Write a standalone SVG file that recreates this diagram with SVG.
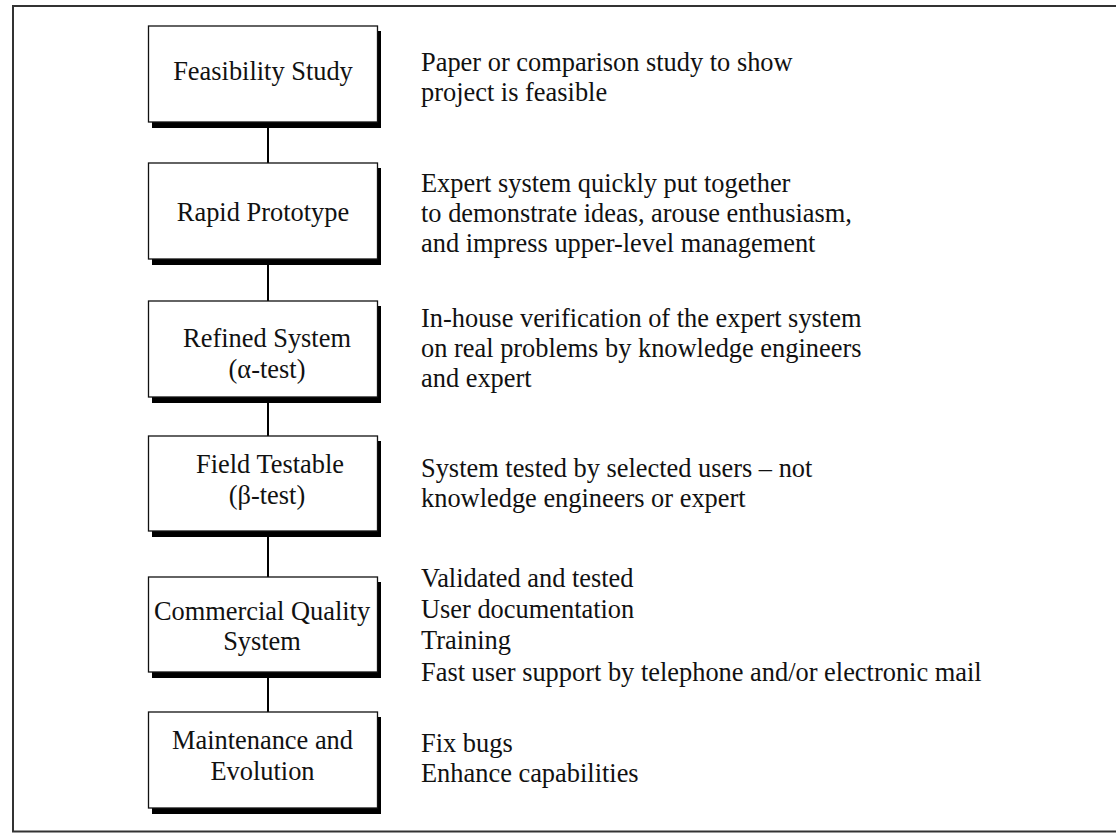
<svg xmlns="http://www.w3.org/2000/svg" width="1116" height="833" viewBox="0 0 1116 833">
<style>
text{font-family:"Liberation Serif","Times New Roman",serif;font-size:26.4px;fill:#111}
.c{text-anchor:middle}
.box{fill:#fff;stroke:#111;stroke-width:1.3}
.sh{fill:#000}
.con{stroke:#000;stroke-width:2;fill:none}
</style>
<rect x="13" y="6" width="1120" height="825.5" fill="#fff" stroke="#333" stroke-width="2"/>
<g id="connectors">
<line class="con" x1="268" y1="122" x2="268" y2="163"/>
<line class="con" x1="268" y1="259" x2="268" y2="301"/>
<line class="con" x1="268" y1="397" x2="268" y2="436"/>
<line class="con" x1="268" y1="531" x2="268" y2="577"/>
<line class="con" x1="268" y1="672" x2="268" y2="712"/>
</g>
<g id="n1">
<rect class="sh" x="152" y="31" width="229" height="97"/>
<rect class="box" x="148.5" y="26" width="229" height="96"/>
<text class="c" x="263" y="80">Feasibility Study</text>
</g>
<g id="n2">
<rect class="sh" x="152" y="168" width="229" height="97"/>
<rect class="box" x="148.5" y="163" width="229" height="96"/>
<text class="c" x="263" y="221">Rapid Prototype</text>
</g>
<g id="n3">
<rect class="sh" x="152" y="306" width="229" height="97"/>
<rect class="box" x="148.5" y="301" width="229" height="96"/>
<text class="c" x="267" y="347">Refined System</text>
<text class="c" x="267" y="378">(α-test)</text>
</g>
<g id="n4">
<rect class="sh" x="152" y="441" width="229" height="96"/>
<rect class="box" x="148.5" y="436" width="229" height="95"/>
<text class="c" x="270" y="473">Field Testable</text>
<text class="c" x="267" y="504">(β-test)</text>
</g>
<g id="n5">
<rect class="sh" x="152" y="582" width="229" height="96"/>
<rect class="box" x="148.5" y="577" width="229" height="95"/>
<text class="c" x="262" y="620">Commercial Quality</text>
<text class="c" x="262" y="650">System</text>
</g>
<g id="n6">
<rect class="sh" x="152" y="717" width="229" height="97"/>
<rect class="box" x="148.5" y="712" width="229" height="96"/>
<text class="c" x="262.5" y="749">Maintenance and</text>
<text class="c" x="262.5" y="780">Evolution</text>
</g>
<g id="descriptions">
<text x="421" y="71">Paper or comparison study to show</text>
<text x="421" y="101">project is feasible</text>
<text x="421" y="192">Expert system quickly put together</text>
<text x="421" y="222">to demonstrate ideas, arouse enthusiasm,</text>
<text x="421" y="252">and impress upper-level management</text>
<text x="421" y="327">In-house verification of the expert system</text>
<text x="421" y="357">on real problems by knowledge engineers</text>
<text x="421" y="387">and expert</text>
<text x="421" y="477">System tested by selected users – not</text>
<text x="421" y="507">knowledge engineers or expert</text>
<text x="421" y="587">Validated and tested</text>
<text x="421" y="618">User documentation</text>
<text x="421" y="649">Training</text>
<text x="421" y="681">Fast user support by telephone and/or electronic mail</text>
<text x="421" y="752">Fix bugs</text>
<text x="421" y="782">Enhance capabilities</text>
</g>
</svg>
